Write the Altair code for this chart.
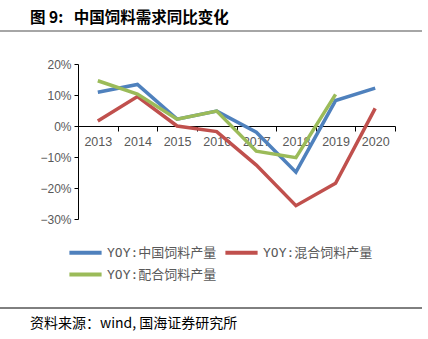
import altair as alt
import pandas as pd

years = ["2013", "2014", "2015", "2016", "2017", "2018", "2019", "2020"]
s_names = ["YOY:中国饲料产量", "YOY:混合饲料产量", "YOY:配合饲料产量"]
total = [10.9, 13.4, 2.2, 4.8, -2.0, -14.9, 8.2, 12.2]
mixed = [1.6, 9.5, 0.0, -1.8, -12.6, -25.7, -18.5, 5.7]
compound = [14.6, 10.3, 2.2, 4.8, -8.1, -10.2, 10.2, None]
colors = ["#4F81BD", "#C0504D", "#9BBB59"]

rows = []
for name, vals in zip(s_names, [total, mixed, compound]):
    for y, v in zip(years, vals):
        if v is not None:
            rows.append({"year": y, "series": name, "value": v})
df = pd.DataFrame(rows)

FONT = "Noto Sans CJK SC"
W, H = 317, 155

lines = alt.Chart(df).mark_line(strokeWidth=3.5).encode(
    x=alt.X("year:N", sort=years, title=None,
            scale=alt.Scale(paddingInner=0, paddingOuter=0),
            axis=alt.Axis(offset=-93, tickBand="extent", labelAngle=0,
                          domainColor="#000", tickColor="#000", tickSize=5,
                          labelColor="#595959", labelFont="Liberation Sans",
                          labelFontSize=12.5, labelPadding=4, grid=False)),
    y=alt.Y("value:Q", title=None,
            scale=alt.Scale(domain=[-30, 20], nice=False),
            axis=alt.Axis(values=[-30, -20, -10, 0, 10, 20], grid=False,
                          labelExpr="replace(datum.value + '%', '-', '−')",
                          domainColor="#000", tickColor="#000", tickSize=4,
                          labelColor="#595959", labelFont="Liberation Sans",
                          labelFontSize=12, labelPadding=3)),
    color=alt.Color("series:N", sort=s_names,
                    scale=alt.Scale(domain=s_names, range=colors),
                    legend=alt.Legend(title=None, orient="none", legendX=-6, legendY=175,
                                      columns=2, direction="horizontal",
                                      symbolType="M-1.4,0H1.4", symbolStrokeWidth=4,
                                      symbolSize=529,
                                      labelFont="DejaVu Sans Mono, Noto Sans CJK SC",
                                      labelFontSize=13,
                                      labelColor="#595959", rowPadding=0,
                                      columnPadding=0, labelOffset=8)),
)

title_txt = alt.Chart(pd.DataFrame({"t": ["图 9:\u00a0\u00a0\u00a0中国饲料需求同比变化"]})).mark_text(
    align="left", baseline="alphabetic", font=FONT, fontSize=15.5, fontWeight="bold", color="#000"
).encode(text="t:N", x=alt.value(-48), y=alt.value(-41))

src_txt = alt.Chart(pd.DataFrame({"t": ["资料来源：wind,\u00a0国海证券研究所"]})).mark_text(
    align="left", baseline="alphabetic", font=FONT, fontSize=14, color="#000"
).encode(text="t:N", x=alt.value(-48), y=alt.value(264))

top_rule = alt.Chart(pd.DataFrame({"a": [0]})).mark_rule(color="#888888", strokeWidth=1.5).encode(
    x=alt.value(-78), x2=alt.value(344), y=alt.value(-33))
bot_rule = alt.Chart(pd.DataFrame({"a": [0]})).mark_rule(color="#000000", strokeWidth=1).encode(
    x=alt.value(-78), x2=alt.value(344), y=alt.value(244))

chart = alt.layer(lines, title_txt, src_txt, top_rule, bot_rule).properties(
    width=W, height=H,
    autosize=alt.AutoSizeParams(type="none"),
    padding={"left": 78, "top": 64, "right": 33, "bottom": 120},
    background="white",
).configure_view(stroke=None)

chart.save("out.html", embed_options={"renderer": "svg", "actions": False})
